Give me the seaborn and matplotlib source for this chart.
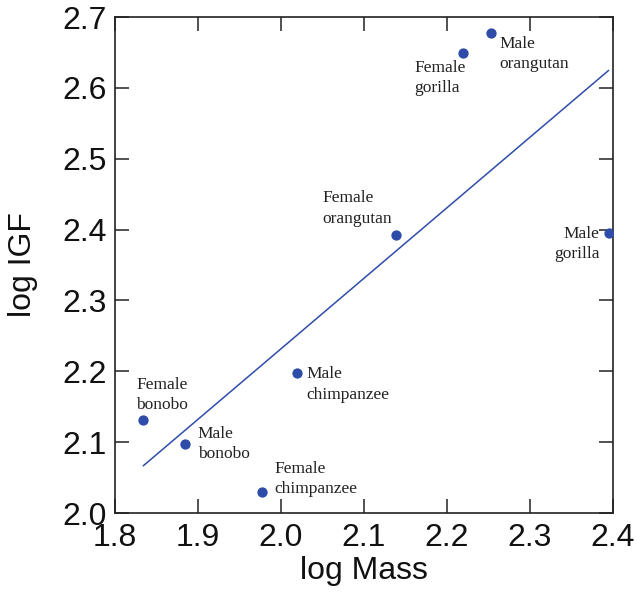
import numpy as np
import pandas as pd
import matplotlib
matplotlib.use("Agg")
import matplotlib.pyplot as plt
import seaborn as sns

# values
species = ["Female\nbonobo", "Male\nbonobo", "Female\nchimpanzee", "Male\nchimpanzee",
           "Female\norangutan", "Female\ngorilla", "Male\norangutan", "Male\ngorilla"]
log_mass = [1.834, 1.884, 1.977, 2.019, 2.139, 2.219, 2.253, 2.395]
log_igf = [2.131, 2.097, 2.030, 2.197, 2.393, 2.649, 2.678, 2.395]

# label offsets in screen pixels (down is positive), with alignment
offsets = [(-7, -7), (13, 0), (13, 5), (10, -7), (-74, -8), (-48, 7), (9, 3), (-9, -7)]
haligns = ["left", "left", "left", "left", "left", "left", "left", "right"]
valigns = ["bottom", "center", "bottom", "top", "bottom", "top", "top", "top"]

df = pd.DataFrame({"mass": log_mass, "igf": log_igf, "name": species})

sns.set_style("ticks")
plt.rcParams["font.family"] = ["Liberation Sans", "DejaVu Sans"]

blue = "#2F4DA8"
fig = plt.figure(figsize=(6.39, 5.97), dpi=100)
ax = fig.add_axes([0.18, 0.1407, 0.779, 0.8308])

sns.regplot(data=df, x="mass", y="igf", ci=None, ax=ax, color=blue,
            scatter_kws={"s": 55, "linewidths": 0, "alpha": 1, "zorder": 3},
            line_kws={"linewidth": 1.1})

for x, y, name, off, ha, va in zip(log_mass, log_igf, species, offsets, haligns, valigns):
    ax.annotate(name, (x, y), xytext=(off[0] * 0.72, -off[1] * 0.72),
                textcoords="offset points", ha=ha, va=va,
                fontsize=12.5, family="Liberation Serif", color="#222222",
                linespacing=1.35)

ax.set_xlim(1.8, 2.4)
ax.set_ylim(2.0, 2.7)
ax.set_xticks(np.arange(1.8, 2.41, 0.1))
ax.set_yticks(np.arange(2.0, 2.71, 0.1))
ax.set_xticklabels([f"{v:.1f}" for v in np.arange(1.8, 2.41, 0.1)])
ax.set_yticklabels([f"{v:.1f}" for v in np.arange(2.0, 2.71, 0.1)])
ax.tick_params(direction="in", length=10, width=1.1, labelsize=23,
               top=True, right=True, color="#222222", labelcolor="#111111")
ax.tick_params(axis="x", pad=7)
ax.tick_params(axis="y", pad=6)
for sp in ax.spines.values():
    sp.set_visible(True)
    sp.set_linewidth(1.2)
    sp.set_color("#222222")

ax.set_xlabel("log Mass", fontsize=23, color="#111111", labelpad=2)
ax.set_ylabel("log IGF", fontsize=23, color="#111111")
ax.yaxis.set_label_coords(-0.155, 0.5)

fig.savefig("out.png", dpi=100)
